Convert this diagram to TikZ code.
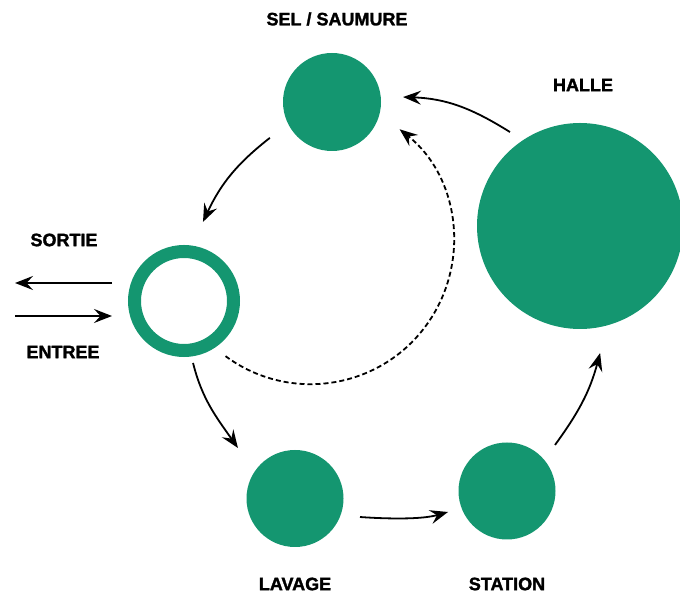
\documentclass[tikz,border=0pt]{standalone}
\usepackage{fontspec}
\setmainfont{Liberation Sans}[BoldFeatures={FakeBold=1.6}]
\usetikzlibrary{arrows.meta}
\definecolor{salt}{RGB}{20,150,112}
\begin{document}
\begin{tikzpicture}[x=1pt,y=1pt,
  disc/.style={circle,fill=salt,draw=none,inner sep=0pt,outer sep=0pt},
  lbl/.style={font=\bfseries\fontsize{18}{18}\selectfont,inner sep=0pt},
  flow/.style={line width=1.8pt,-{Stealth[length=18pt,width=14pt,inset=6.5pt]}},
  flowdash/.style={flow,dash pattern=on 5pt off 3pt}]
\useasboundingbox (0,0) rectangle (680,594);
% stations
\node[disc,minimum size=98pt] (sel) at (332,492) {};
\node[disc,minimum size=206pt] (halle) at (580,368) {};
\node[circle,draw=salt,line width=13pt,minimum size=99pt,inner sep=0pt,outer sep=0pt] (ring) at (184,293) {};
\node[disc,minimum size=97pt] (lavage) at (295,95.5) {};
\node[disc,minimum size=97pt] (station) at (507,103) {};
% labels
\node[lbl] (tsel) at (337,575) {SEL / SAUMURE};
\node[lbl] (thalle) at (583,509) {HALLE};
\node[lbl] (tsortie) at (64,354) {SORTIE};
\node[lbl] (tentree) at (63,242) {ENTREE};
\node[lbl] (tlavage) at (295,10) {LAVAGE};
\node[lbl] (tstation) at (507,10) {STATION};
% free ends
\coordinate (exitpt) at (15,311);
\coordinate (entrypt) at (15,278);
\coordinate (loop) at (310,352);
% flows
\draw[flow] ([shift={(126.7:117.2)}]halle.center) to[out=148,in=-2] ([shift={(4:71.2)}]sel.center);
\draw[flow] ([shift={(210:71.7)}]sel.center) to[out=218,in=65] ([shift={(76.5:81.3)}]ring.center);
\draw[flow] ([shift={(-81.7:62.6)}]ring.center) to[out=-76,in=125] ([shift={(138.5:76.2)}]lavage.center);
\draw[flow] ([shift={(-15.9:67.6)}]lavage.center) to[out=-4,in=196,looseness=0.8] ([shift={(199.6:62.6)}]station.center);
\draw[flow] ([shift={(43.8:66.5)}]station.center) to[out=54,in=255] ([shift={(-81:128.6)}]halle.center);
\draw[flowdash] ([shift={(233.5:142)}]loop) arc[start angle=233.5,end angle=411.5,radius=143];
\draw[flow] ([shift={(-72,18)}]ring.center) -- (exitpt);
\draw[flow] (entrypt) -- ([shift={(-72,-15)}]ring.center);
\end{tikzpicture}
\end{document}
